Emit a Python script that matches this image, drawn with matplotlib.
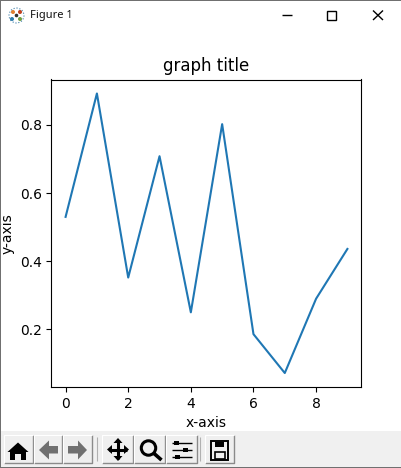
import matplotlib
matplotlib.use("Agg")
import matplotlib.pyplot as plt
from matplotlib.patches import Rectangle, Polygon, Circle

# values
x = [0, 1, 2, 3, 4, 5, 6, 7, 8, 9]
y = [0.53, 0.892, 0.352, 0.708, 0.25, 0.802, 0.186, 0.072, 0.29, 0.436]

W, H = 402, 468

fig = plt.figure(figsize=(W / 100, H / 100), dpi=100, facecolor="white")

# window chrome, drawn in pixel coordinates
ui = fig.add_axes([0, 0, 1, 1], zorder=5)
ui.set_xlim(0, W)
ui.set_ylim(H, 0)
ui.axis("off")
ui.patch.set_alpha(0)


def rect(x0, y0, w, h, **kw):
    kw.setdefault("linewidth", 0)
    ui.add_patch(Rectangle((x0, y0), w, h, **kw))


def poly(pts, color="black"):
    ui.add_patch(Polygon(pts, closed=True, facecolor=color, edgecolor="none"))


def line(xs, ys, lw=1.0, color="black"):
    ui.plot(xs, ys, color=color, lw=lw, solid_capstyle="butt")


# toolbar strip and outer border
rect(1, 431, W - 2, 36, facecolor="#f0f0f0")
rect(0, 0, 1.2, H, facecolor="#707070")
rect(W - 1.2, 0, 1.2, H, facecolor="#707070")
rect(0, 0, W, 1.2, facecolor="#707070")
rect(0, H - 1.2, W, 1.2, facecolor="#707070")

# title bar
ui.text(30, 15.5, "Figure 1", fontsize=8, family="Noto Sans", va="center", ha="left", color="#101010")
for cx, cy, c in [(13, 12, "#e08030"), (20, 12, "#c04020"), (12, 19, "#3080b0"), (20, 19, "#70a040")]:
    ui.add_patch(Circle((cx, cy), 2, facecolor=c, edgecolor="none"))
ui.add_patch(Circle((16.5, 15.5), 7.5, facecolor="none", edgecolor="#3f7fa8", lw=0.8, ls=":"))
ui.add_patch(Circle((16.5, 15.5), 1.8, facecolor="#303030", edgecolor="none"))
line([282, 292], [15, 15], 1.0)
rect(327.5, 10.5, 9, 9, facecolor="none", edgecolor="black", linewidth=1.0)
line([373, 383], [10.5, 20], 1.0)
line([373, 383], [20, 10.5], 1.0)

# toolbar buttons
for bx, bw in [(4, 29), (34, 28), (63, 29), (102, 31), (134, 31), (166, 31), (205, 29)]:
    rect(bx, 435, bw, 28, facecolor="#efefef")
    line([bx, bx + bw, bx + bw], [463, 463, 435], 1.0, "#8a8a8a")
    line([bx, bx, bx + bw], [463, 435, 435], 0.8, "#ffffff")
for sx in [97.5, 200.5]:
    line([sx, sx], [437, 461], 0.8, "#b0b0b0")

# home
poly([(18, 442.5), (28.5, 452), (26, 452), (26, 460), (21, 460), (21, 454), (15, 454), (15, 460), (10, 460), (10, 452), (7.5, 452)])
# back / forward
poly([(39, 450), (49, 440.5), (49, 446), (58, 446), (58, 453.5), (49, 453.5), (49, 459.5)], "#707070")
poly([(87, 450), (78, 440.5), (78, 446), (68, 446), (68, 453.5), (78, 453.5), (78, 459.5)], "#707070")
# move
line([109, 127], [449.5, 449.5], 2.2)
line([118, 118], [440, 459], 2.2)
poly([(118, 438), (122.5, 443), (113.5, 443)])
poly([(118, 461), (122.5, 456), (113.5, 456)])
poly([(107, 449.5), (112, 445), (112, 454)])
poly([(129, 449.5), (124, 445), (124, 454)])
# zoom
ui.add_patch(Circle((148.5, 448), 7.2, facecolor="none", edgecolor="black", lw=2.2))
line([153.5, 161.5], [453, 460], 2.6)
# subplots
for ly, kx in [(443, 177), (449.7, 186), (457, 178)]:
    line([172, 192], [ly, ly], 1.0)
    rect(kx - 2.5, ly - 2.2, 5, 4.4, facecolor="black")
# save
rect(211.5, 441, 17, 18.5, facecolor="none", edgecolor="black", linewidth=1.4)
rect(215, 441.5, 9, 5.5, facecolor="black")
rect(215, 452, 10, 7, facecolor="none", edgecolor="black", linewidth=1.2)

# the actual plot
ax = fig.add_axes([51.5 / W, 1 - 387 / H, 310 / W, 307.5 / H])
ax.plot(x, y)
ax.set_title("graph title")
ax.set_xlabel("x-axis")
ax.set_ylabel("y-axis")
ax.set_xticks([0, 2, 4, 6, 8])
ax.set_yticks([0.2, 0.4, 0.6, 0.8])

fig.savefig("out.png", dpi=100)
